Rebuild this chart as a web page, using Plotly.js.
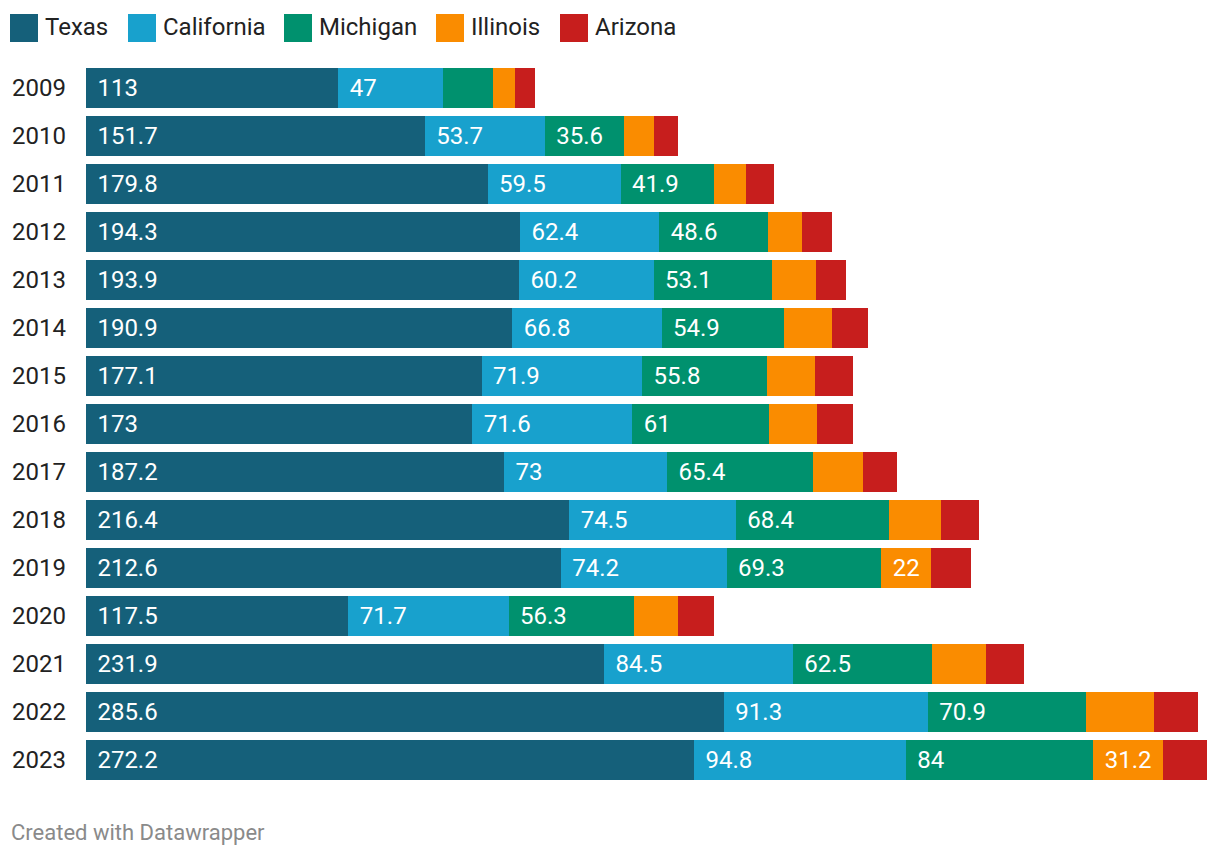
<!DOCTYPE html>
<html>
<head>
<meta charset="utf-8">
<script src="https://cdn.plot.ly/plotly-3.0.1.min.js"></script>
<style>html,body{margin:0;padding:0;background:#fff;}#chart{width:1220px;height:858px;}</style>
</head>
<body>
<div id="chart"></div>
<script>
const years = ['2009','2010','2011','2012','2013','2014','2015','2016','2017','2018','2019','2020','2021','2022','2023'];
const seriesNames = ['Texas','California','Michigan','Illinois','Arizona'];
const texas      = [113, 151.7, 179.8, 194.3, 193.9, 190.9, 177.1, 173, 187.2, 216.4, 212.6, 117.5, 231.9, 285.6, 272.2];
const california = [47, 53.7, 59.5, 62.4, 60.2, 66.8, 71.9, 71.6, 73, 74.5, 74.2, 71.7, 84.5, 91.3, 94.8];
const michigan   = [22.4, 35.6, 41.9, 48.6, 53.1, 54.9, 55.8, 61, 65.4, 68.4, 69.3, 56.3, 62.5, 70.9, 84];
const illinois   = [9.8, 13.4, 14.3, 15.2, 19.7, 21.5, 21.5, 21.5, 22.4, 23.3, 22, 19.7, 24.2, 30.4, 31.2];
const arizona    = [9, 10.7, 12.5, 13.4, 13.4, 16.1, 17, 16.1, 15.2, 17, 17.9, 16.1, 17, 19.7, 19.7];
// which value labels are printed inside the bars
const showTexas      = [1,1,1,1,1,1,1,1,1,1,1,1,1,1,1];
const showCalifornia = [1,1,1,1,1,1,1,1,1,1,1,1,1,1,1];
const showMichigan   = [0,1,1,1,1,1,1,1,1,1,1,1,1,1,1];
const showIllinois   = [0,0,0,0,0,0,0,0,0,0,1,0,0,0,1];
const showArizona    = [0,0,0,0,0,0,0,0,0,0,0,0,0,0,0];

const colors = ['#15607a','#18a1cd','#00916e','#fa8c00','#c71e1d'];
const values = [texas, california, michigan, illinois, arizona];
const shows = [showTexas, showCalifornia, showMichigan, showIllinois, showArizona];

const W = 1220, H = 858;
const FONT = 'Roboto, "Noto Sans", sans-serif';
const px = x => x / W;
const py = y => 1 - y / H;

const traces = seriesNames.map((name, i) => ({
  type: 'bar',
  orientation: 'h',
  name: name,
  y: years,
  x: values[i],
  marker: {color: colors[i], line: {width: 0}},
  text: values[i].map((v, j) => shows[i][j] ? '\u00a0\u200a' + v : ''),
  textposition: 'inside',
  insidetextanchor: 'start',
  textangle: 0,
  insidetextfont: {family: FONT, size: 24, color: '#ffffff'},
  hoverinfo: 'name+x',
  cliponaxis: false
}));

// custom legend (big square swatches like the original)
const legendX = [10, 128, 284, 436, 560];
const shapes = [], annotations = [];
seriesNames.forEach((name, i) => {
  shapes.push({type: 'rect', xref: 'paper', yref: 'paper',
    x0: px(legendX[i]), x1: px(legendX[i] + 28), y0: py(42), y1: py(14),
    fillcolor: colors[i], line: {width: 0}});
  annotations.push({xref: 'paper', yref: 'paper', x: px(legendX[i] + 33), y: py(27),
    xanchor: 'left', yanchor: 'middle', showarrow: false, text: name,
    font: {family: FONT, size: 24, color: '#222222'}});
});
annotations.push({xref: 'paper', yref: 'paper', x: px(9), y: py(832),
  xanchor: 'left', yanchor: 'middle', showarrow: false, text: 'Created with Datawrapper',
  font: {family: FONT, size: 22, color: '#8a8a8a'}});

const layout = {
  width: W, height: H,
  margin: {l: 0, r: 0, t: 0, b: 0},
  paper_bgcolor: '#ffffff', plot_bgcolor: '#ffffff',
  barmode: 'stack',
  bargap: 8/48,
  showlegend: false,
  font: {family: FONT, size: 24, color: '#222222'},
  xaxis: {domain: [px(86), px(1208)], range: [0, 1122/2.2337], showgrid: false, zeroline: false,
          showticklabels: false, ticks: '', showline: false, fixedrange: true},
  yaxis: {domain: [py(784), py(64)], type: 'category', categoryorder: 'array', categoryarray: years,
          autorange: 'reversed', showgrid: false, zeroline: false, showline: false, ticks: '',
          ticklabelstandoff: 19, tickfont: {family: FONT, size: 24, color: '#222222'}, fixedrange: true},
  shapes: shapes,
  annotations: annotations
};

Plotly.newPlot('chart', traces, layout, {displayModeBar: false, staticPlot: true});
</script>
</body>
</html>
